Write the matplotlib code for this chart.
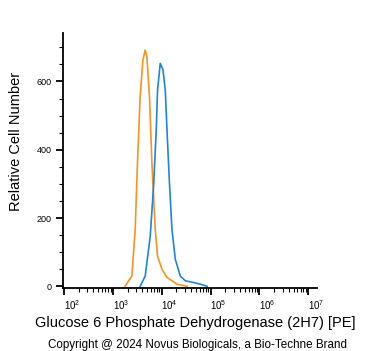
import matplotlib
matplotlib.use('Agg')
import matplotlib.pyplot as plt
import matplotlib.transforms as mtransforms
from matplotlib.ticker import FixedLocator, LogLocator, NullFormatter, MultipleLocator
import numpy as np

plt.rcParams['font.family'] = ['Liberation Sans', 'DejaVu Sans']
plt.rcParams['mathtext.fontset'] = 'custom'
plt.rcParams['mathtext.rm'] = 'Liberation Sans'
plt.rcParams['mathtext.it'] = 'Liberation Sans'

# histogram traces (log10 intensity, cell count)
orange_log = [3.25, 3.39, 3.458, 3.505, 3.56, 3.616, 3.663, 3.698, 3.75, 3.80,
              3.834, 3.869, 3.916, 4.006, 4.109, 4.314, 4.52]
orange_cnt = [0, 30, 166, 362, 556, 663, 692, 672, 556, 362,
              264, 166, 88, 50, 26, 6, 0]

blue_log = [3.56, 3.663, 3.766, 3.834, 3.889, 3.916, 3.971, 4.027, 4.074, 4.109,
            4.156, 4.211, 4.279, 4.382, 4.485, 4.655, 4.793, 4.93]
blue_cnt = [0, 30, 147, 293, 458, 575, 653, 634, 575, 458,
            312, 166, 79, 30, 16, 11, 6, 0]

x_major = [1e2, 1e3, 1e4, 1e5, 1e6, 1e7]
x_labels = ['$10^{2}$', '$10^{3}$', '$10^{4}$', '$10^{5}$', '$10^{6}$', '$10^{7}$']
y_major = [0, 200, 400, 600]

fig = plt.figure(figsize=(3.71, 3.51), dpi=100)
ax = fig.add_axes([63/371, 63/351, 254/371, 255/351])

ax.plot(10 ** np.array(orange_log), orange_cnt, color='#f7931e', lw=1.2)
ax.plot(10 ** np.array(blue_log), blue_cnt, color='#1f84e0', lw=1.2)

ax.set_xscale('log')
ax.set_xlim(10 ** 1.98, 10 ** 7.18)
ax.set_ylim(-5, 742)

ax.xaxis.set_major_locator(FixedLocator(x_major))
ax.set_xticklabels(x_labels)
ax.xaxis.set_minor_locator(LogLocator(base=10, subs=np.arange(2, 10), numticks=20))
ax.xaxis.set_minor_formatter(NullFormatter())
ax.yaxis.set_major_locator(FixedLocator(y_major))
ax.yaxis.set_minor_locator(MultipleLocator(50))

for s in ['top', 'right']:
    ax.spines[s].set_visible(False)
for s in ['left', 'bottom']:
    ax.spines[s].set_linewidth(1.3)

ax.tick_params(axis='both', which='major', length=5, width=1.3, labelsize=6.5, pad=3)
ax.tick_params(axis='both', which='minor', length=3, width=0.8)
ax.tick_params(axis='x', which='major', labelsize=7, pad=2)

# the labels sit a bit to the right of their ticks in the original
offset = mtransforms.ScaledTranslation(8 / 100, 0, fig.dpi_scale_trans)
for lab in ax.get_xticklabels():
    lab.set_transform(lab.get_transform() + offset)

ax.set_ylabel('Relative Cell Number', fontsize=10.5, va='center')
ax.yaxis.set_label_coords(-0.185, 0.576)
ax.set_xlabel('Glucose 6 Phosphate Dehydrogenase (2H7) [PE]', fontsize=10.5, va='center')
ax.xaxis.set_label_coords(0.52, -0.137)
fig.text(197/371, 1 - 345/351, 'Copyright @ 2024 Novus Biologicals, a Bio-Techne Brand',
         fontsize=8.4, ha='center', va='center')

fig.savefig('out.png', dpi=100)
